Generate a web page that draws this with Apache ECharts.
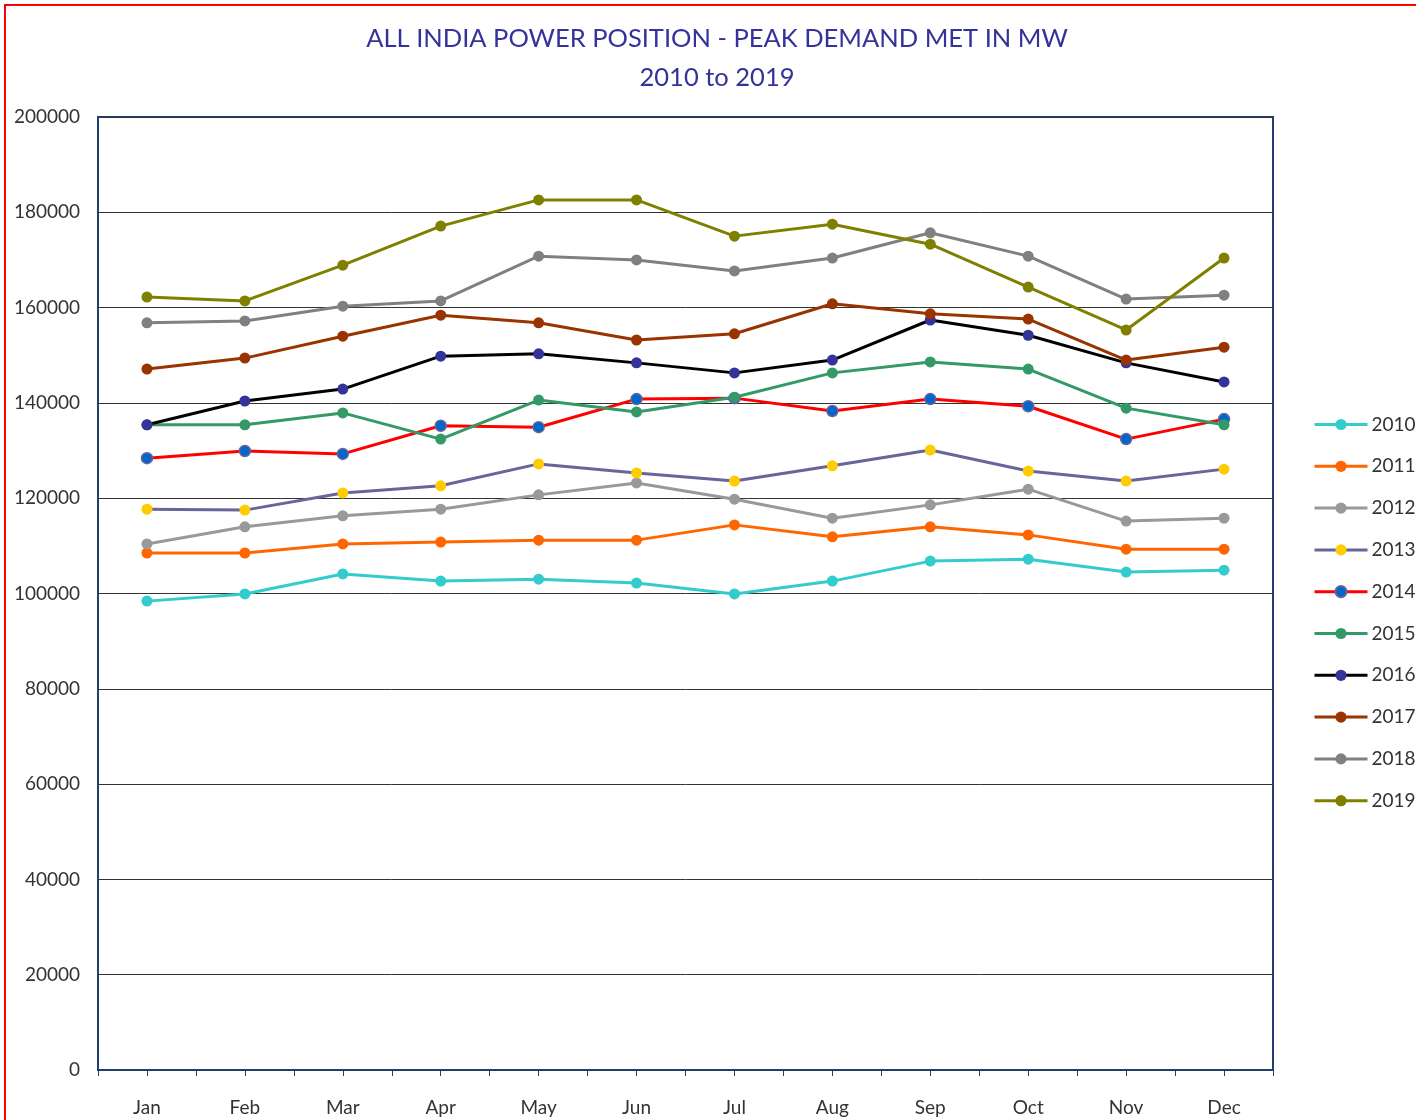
<!DOCTYPE html>
<html>
<head>
<meta charset="utf-8">
<script src="https://cdn.jsdelivr.net/npm/echarts@6/dist/echarts.min.js"></script>
<style>html,body{margin:0;padding:0;background:#fff;}#c{width:1416px;height:1120px;}</style>
</head>
<body>
<div id="c"></div>
<script>
const months = ['Jan','Feb','Mar','Apr','May','Jun','Jul','Aug','Sep','Oct','Nov','Dec'];
const yTicks = [0,20000,40000,60000,80000,100000,120000,140000,160000,180000,200000];
const y2010 = [98400,99900,104100,102600,103000,102200,99900,102600,106800,107200,104500,104900];
const y2011 = [108500,108500,110400,110800,111200,111200,114400,111900,114000,112300,109300,109300];
const y2012 = [110400,114000,116300,117700,120700,123200,119800,115800,118600,121900,115200,115800];
const y2013 = [117700,117500,121100,122600,127200,125300,123600,126800,130100,125700,123600,126100];
const y2014 = [128400,129900,129300,135200,134900,140800,141000,138300,140800,139300,132400,136600];
const y2015 = [135400,135400,137900,132400,140600,138100,141200,146300,148600,147100,138900,135400];
const y2016 = [135400,140400,142900,149800,150300,148400,146300,149000,157400,154200,148400,144400];
const y2017 = [147100,149400,154000,158400,156800,153200,154500,160800,158700,157600,149000,151700];
const y2018 = [156800,157200,160300,161400,170800,170000,167700,170400,175700,170800,161800,162600];
const y2019 = [162200,161400,168900,177100,182600,182600,175000,177500,173300,164300,155300,170400];

const seriesDefs = [
  {name:'2010', data:y2010, line:'#33CCCC', mark:'#33CCCC'},
  {name:'2011', data:y2011, line:'#FF6600', mark:'#FF6600'},
  {name:'2012', data:y2012, line:'#999999', mark:'#999999'},
  {name:'2013', data:y2013, line:'#666699', mark:'#FFCC00'},
  {name:'2014', data:y2014, line:'#FF0000', mark:'#0066CC', border:'#666699'},
  {name:'2015', data:y2015, line:'#339966', mark:'#339966'},
  {name:'2016', data:y2016, line:'#000000', mark:'#333399'},
  {name:'2017', data:y2017, line:'#993300', mark:'#993300'},
  {name:'2018', data:y2018, line:'#808080', mark:'#808080'},
  {name:'2019', data:y2019, line:'#808000', mark:'#808000'}
];

const FONT = 'Lato';
const chart = echarts.init(document.getElementById('c'));
chart.setOption({
  animation:false,
  backgroundColor:'#fff',
  title:{
    text:'ALL INDIA POWER POSITION - PEAK DEMAND MET IN MW\n2010 to 2019',
    left:712, top:14, textAlign:'center',
    textStyle:{color:'#333399', fontSize:25.5, fontWeight:'normal', fontFamily:FONT, lineHeight:39}
  },
  graphic:[{
    type:'rect', silent:true, z:100,
    shape:{x:5,y:5,width:1600,height:1300},
    style:{fill:'none', stroke:'#FF0000', lineWidth:2}
  }],
  legend:{
    orient:'vertical', left:1308, top:410,
    itemWidth:53, itemHeight:14, itemGap:22.8,
    lineStyle:{width:3},
    textStyle:{color:'#333', fontSize:19, fontFamily:FONT, padding:[0,0,0,-1]},
    data:seriesDefs.map(s=>s.name)
  },
  grid:{left:98, right:143, top:117, bottom:50, show:true, borderColor:'#1F3F6F', borderWidth:2, backgroundColor:'transparent'},
  xAxis:[{
    type:'category', data:months, boundaryGap:true,
    axisLine:{lineStyle:{color:'#1F3F6F', width:2}},
    axisTick:{show:true, length:6, lineStyle:{color:'#1F3F6F', width:1}},
    axisLabel:{color:'#333', fontSize:19, fontFamily:FONT, margin:28},
    splitLine:{show:false}
  },{
    type:'category', data:months, boundaryGap:true, position:'bottom',
    axisLine:{show:false},
    axisTick:{show:true, alignWithLabel:true, length:6, lineStyle:{color:'#1F3F6F', width:1}},
    axisLabel:{show:false},
    splitLine:{show:false}
  }],
  yAxis:{
    type:'value', min:0, max:200000, interval:20000,
    axisLine:{show:true, lineStyle:{color:'#1F3F6F', width:2}},
    axisTick:{show:false},
    axisLabel:{color:'#333', fontSize:19, fontFamily:FONT, margin:18,
      formatter:v=>yTicks.includes(v)?String(v):''},
    splitLine:{show:true, lineStyle:{color:'#333', width:1}}
  },
  series:seriesDefs.map(s=>({
    name:s.name, type:'line', data:s.data,
    symbol:'circle', symbolSize:11,
    lineStyle:{color:s.line, width:3},
    itemStyle:{color:s.mark, borderColor:s.border||s.mark, borderWidth:s.border?1.5:0},
    color:s.line
  }))
});
</script>
</body>
</html>
